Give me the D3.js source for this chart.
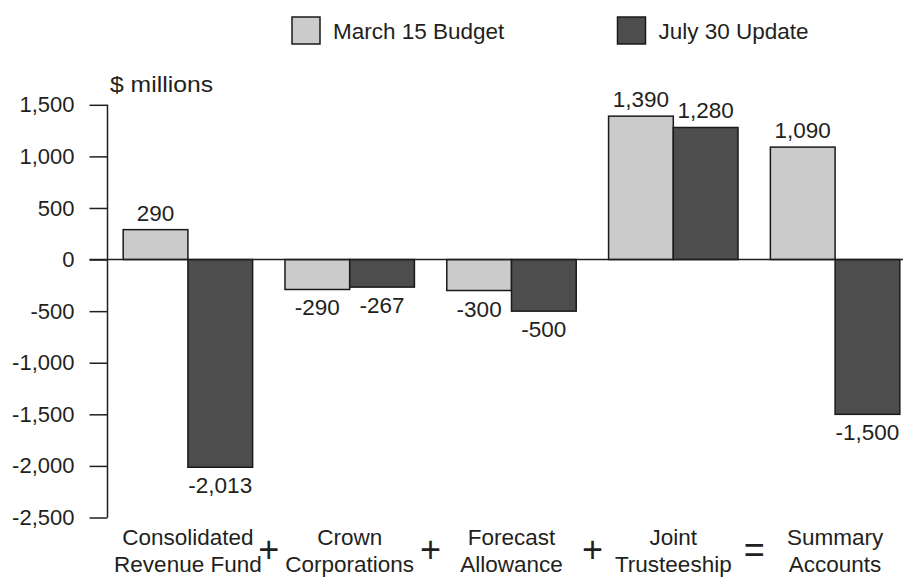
<!DOCTYPE html>
<html>
<head>
<meta charset="utf-8">
<script src="https://cdn.jsdelivr.net/npm/d3@7"></script>
<style>
  body { margin: 0; background: #fff; }
  text { font-family: 'Liberation Sans', Arial, Helvetica, sans-serif; fill: #231f20; }
</style>
</head>
<body>
<svg id="chart" width="903" height="577"></svg>
<script>
const categories = [
  ['Consolidated', 'Revenue Fund'],
  ['Crown', 'Corporations'],
  ['Forecast', 'Allowance'],
  ['Joint', 'Trusteeship'],
  ['Summary', 'Accounts']
];
const seriesNames = ['March 15 Budget', 'July 30 Update'];
const march15 = [290, -290, -300, 1390, 1090];
const july30 = [-2013, -267, -500, 1280, -1500];
const operators = ['+', '+', '+', '='];
const yTicks = [1500, 1000, 500, 0, -500, -1000, -1500, -2000, -2500];

const colors = ['#cbcbcb', '#4d4d4d'];
// plain hyphen for negatives, like the original
const fmt = v => d3.format(',')(v).replace('\u2212', '-');

const svg = d3.select('#chart');
const W = 903;
const FS = 22.5;

const y = d3.scaleLinear().domain([-2500, 1500]).range([517.5, 104.8]);
const x = d3.scaleBand().domain(d3.range(categories.length))
  .range([107, 916]).paddingInner(0.2).paddingOuter(0.1);
const xs = d3.scaleBand().domain([0, 1]).range([0, x.bandwidth()]);

const axisX = 107.5;

// y axis
const yAxis = d3.axisLeft(y).tickValues(yTicks).tickSize(18).tickPadding(15)
  .tickFormat(fmt);
const gy = svg.append('g').attr('transform', `translate(${axisX},0)`).call(yAxis);
gy.select('.domain').remove();
gy.selectAll('.tick line').attr('stroke', '#231f20').attr('stroke-width', 1.5);
gy.selectAll('.tick text').attr('font-size', 22).attr('font-family', "'Liberation Sans', Arial, sans-serif").attr('fill', '#231f20');
gy.append('line')
  .attr('x1', 0).attr('x2', 0)
  .attr('y1', y(1500)).attr('y2', y(-2500))
  .attr('stroke', '#231f20').attr('stroke-width', 1.5);

svg.append('text')
  .attr('x', 110).attr('y', 92)
  .attr('font-size', FS)
  .attr('textLength', 103)
  .attr('lengthAdjust', 'spacingAndGlyphs')
  .text('$ millions');

// bars
const data = categories.map((c, i) => ({ i, vals: [march15[i], july30[i]] }));
const groups = svg.append('g').selectAll('g').data(data).join('g')
  .attr('transform', d => `translate(${x(d.i)},0)`);

groups.selectAll('rect').data(d => d.vals.map((v, s) => ({ v, s }))).join('rect')
  .attr('x', d => xs(d.s))
  .attr('width', xs.bandwidth())
  .attr('y', d => y(Math.max(0, d.v)))
  .attr('height', d => Math.abs(y(d.v) - y(0)))
  .attr('fill', d => colors[d.s])
  .attr('stroke', '#1a1a1a')
  .attr('stroke-width', 1.5);

// zero line
svg.append('line')
  .attr('x1', axisX - 18).attr('x2', W)
  .attr('y1', y(0)).attr('y2', y(0))
  .attr('stroke', '#231f20').attr('stroke-width', 1.5);

// value labels
groups.selectAll('text.val').data(d => d.vals.map((v, s) => ({ v, s }))).join('text')
  .attr('class', 'val')
  .attr('x', d => xs(d.s) + xs.bandwidth() / 2)
  .attr('y', d => d.v >= 0 ? y(d.v) - 9 : y(d.v) + 26)
  .attr('text-anchor', 'middle')
  .attr('font-size', FS)
  .text(d => fmt(d.v));

// category labels
groups.each(function(d) {
  const t = d3.select(this).append('text')
    .attr('text-anchor', 'middle')
    .attr('font-size', FS);
  categories[d.i].forEach((line, k) => {
    t.append('tspan')
      .attr('x', x.bandwidth() / 2)
      .attr('y', 545 + k * 27)
      .text(line);
  });
});

// operators between categories
svg.append('g').selectAll('text').data(operators).join('text')
  .attr('x', (d, i) => (x(i) + x.bandwidth() + x(i + 1)) / 2)
  .attr('y', 562)
  .attr('text-anchor', 'middle')
  .attr('font-size', 36)
  .text(d => d);

// legend
const legend = svg.append('g').selectAll('g').data(seriesNames).join('g')
  .attr('transform', (d, i) => `translate(${[292, 617.5][i]},17)`);
legend.append('rect')
  .attr('width', 28).attr('height', 27)
  .attr('fill', (d, i) => colors[i])
  .attr('stroke', '#1a1a1a').attr('stroke-width', 1.5);
legend.append('text')
  .attr('x', 41).attr('y', 22)
  .attr('font-size', FS)
  .text(d => d);
</script>
</body>
</html>
